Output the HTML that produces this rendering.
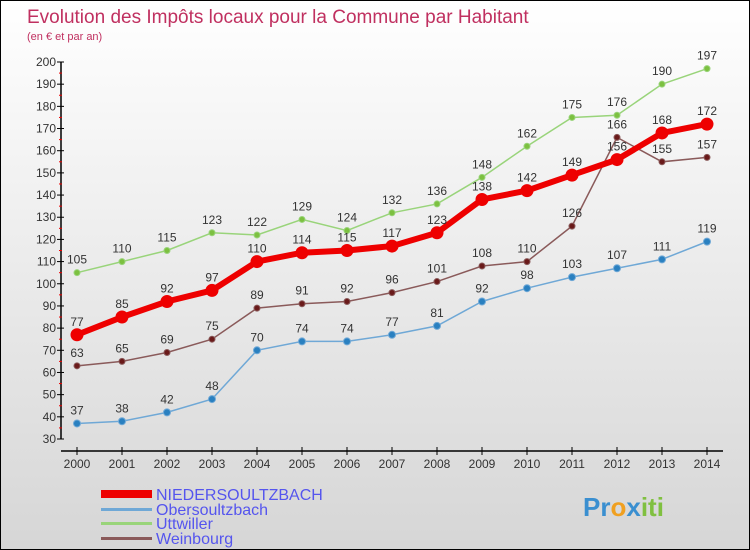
<!DOCTYPE html>
<html><head><meta charset="utf-8"><style>
body{margin:0}
#c{width:750px;height:550px;position:relative;box-sizing:border-box;border:1px solid #000;background:linear-gradient(#fff,#d6d6d6);font-family:"Liberation Sans",sans-serif;overflow:hidden}
</style></head><body>
<div id="c">
<svg id="s" width="750" height="550" style="position:absolute;left:0;top:0">
<text x="26" y="22" font-size="19" fill="#c03060">Evolution des Impôts locaux pour la Commune par Habitant</text>
<text x="26" y="39" font-size="11" fill="#c03060">(en € et par an)</text>
<g id="ax"></g><g id="series"></g>
<g font-size="16" fill="#5555ee">
<rect x="100" y="489" width="51" height="8" fill="#e00"/>
<text x="155" y="499">NIEDERSOULTZBACH</text>
<rect x="100" y="507" width="51" height="3" fill="#6fa8d6"/>
<text x="155" y="514">Obersoultzbach</text>
<rect x="100" y="521" width="51" height="3" fill="#99d47a"/>
<text x="155" y="528">Uttwiller</text>
<rect x="100" y="536" width="51" height="3" fill="#8a5a5a"/>
<text x="155" y="543">Weinbourg</text>
</g>
<g font-size="26" font-weight="bold">
<text x="582" y="515"><tspan fill="#3a8fd0">Pr</tspan><tspan fill="#f0a020">o</tspan><tspan fill="#3a8fd0">x</tspan><tspan fill="#80c040">iti</tspan></text>
</g>
</svg>
</div>
<script>
const years=[2000,2001,2002,2003,2004,2005,2006,2007,2008,2009,2010,2011,2012,2013,2014];
const niedersoultzbach=[77,85,92,97,110,114,115,117,123,138,142,149,156,168,172];
const obersoultzbach=[37,38,42,48,70,74,74,77,81,92,98,103,107,111,119];
const uttwiller=[105,110,115,123,122,129,124,132,136,148,162,175,176,190,197];
const weinbourg=[63,65,69,75,89,91,92,96,101,108,110,126,166,155,157];
const yTicks=[30,40,50,60,70,80,90,100,110,120,130,140,150,160,170,180,190,200];
const NS="http://www.w3.org/2000/svg";
const X=i=>76+i*45, Y=v=>438-(v-30)*(377/170);
function mk(t,a,p){const e=document.createElementNS(NS,t);for(const k in a)e.setAttribute(k,a[k]);p.appendChild(e);return e;}
const ax=document.getElementById('ax');
const ya=mk('line',{x1:60,y1:Y(200),x2:60,y2:Y(30),stroke:'#000','stroke-width':1.5},ax);


yTicks.forEach(v=>{
 mk('line',{x1:56,x2:63,y1:Y(v),y2:Y(v),stroke:'#000'},ax);
 if(v<200)mk('line',{x1:58,x2:61,y1:Y(v+5),y2:Y(v+5),stroke:'#e00'},ax);
 const t=mk('text',{x:55,y:Y(v)+4,'font-size':12,'text-anchor':'end',fill:'#333'},ax);t.textContent=v;
 
 
});
const xa=mk('line',{x1:60,y1:450,x2:722,y2:450,stroke:'#000','stroke-width':1.5},ax);


years.forEach((y,i)=>{
 mk('line',{x1:X(i),x2:X(i),y1:446,y2:454,stroke:'#000'},ax);
 const t=mk('text',{x:X(i),y:467,'font-size':12,'text-anchor':'middle',fill:'#333'},ax);t.textContent=y;
 
 
});
const sg=document.getElementById('series');
function draw(vals,name,col,w,r,dot){
 const g=mk('g',{},sg);
 
 
 mk('polyline',{points:vals.map((v,i)=>X(i)+','+Y(v)).join(' '),fill:'none',stroke:col,'stroke-width':w},g);
 vals.forEach((v,i)=>{
  const c=mk('circle',{cx:X(i),cy:Y(v),r:r,fill:dot,stroke:col,'stroke-width':1},g);
  
  
  const t=mk('text',{x:X(i),y:Y(v)-9,'font-size':12,'text-anchor':'middle',fill:'#333'},g);t.textContent=v;
  
  
 });
}
draw(uttwiller,'uttwiller','#99d47a',1.5,3,'#7cc040');
draw(weinbourg,'weinbourg','#8a5a5a',1.5,3,'#6a1a1a');
draw(obersoultzbach,'obersoultzbach','#6fa8d6',1.5,3.5,'#2a80c0');
draw(niedersoultzbach,'niedersoultzbach','#e00',6,6,'#e00');
</script>
</body></html>
